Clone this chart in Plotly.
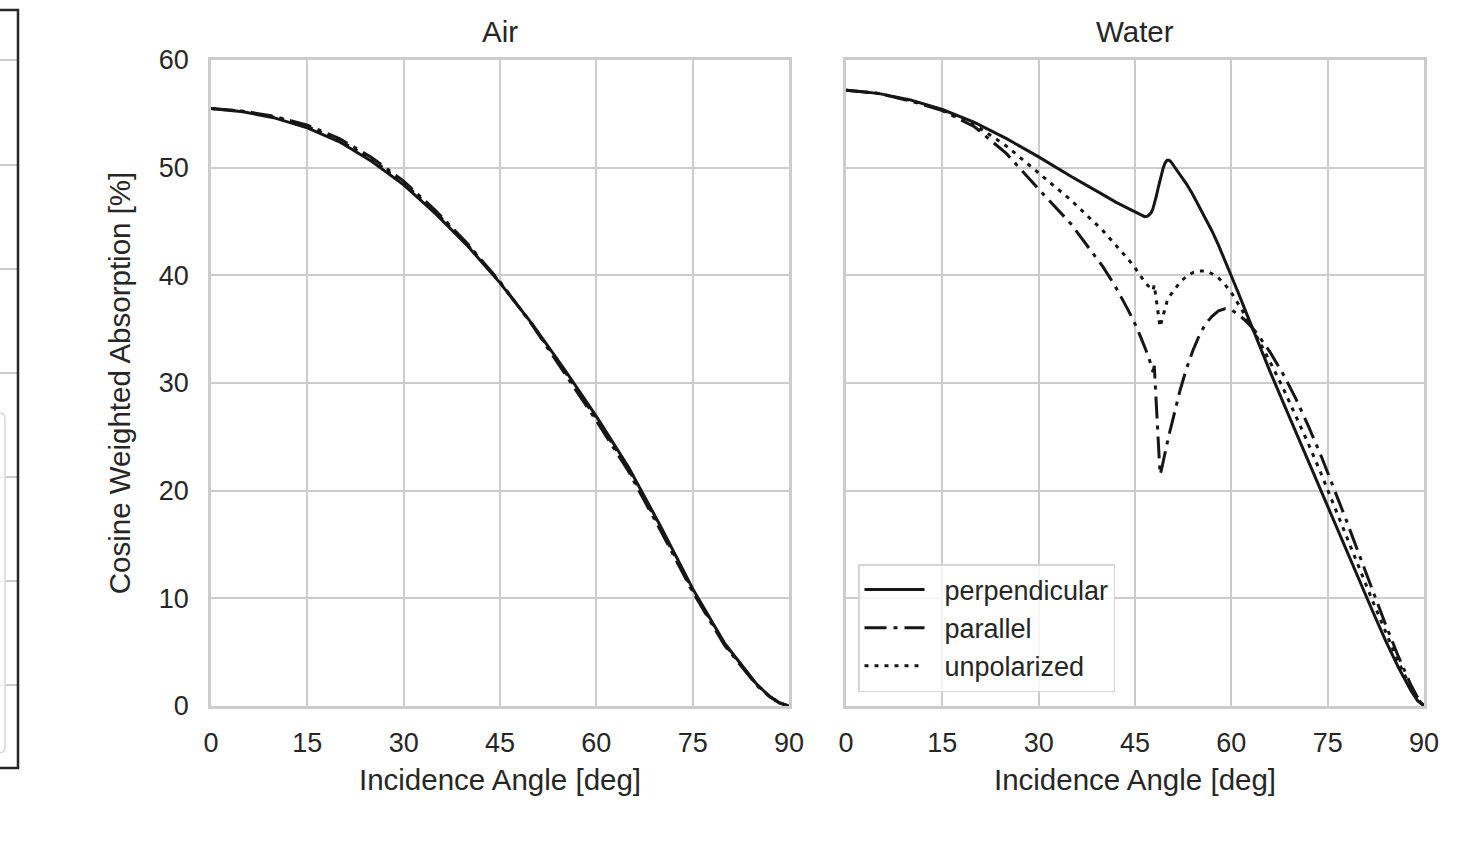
import plotly.graph_objects as go

# ---------------- data ----------------
air_angle = [0, 5, 10, 15, 20, 25, 30, 35, 40, 45, 50, 55, 60, 65, 70, 75, 80, 85, 87, 88.5, 90]
air_perp = [55.5, 55.2, 54.6, 53.7, 52.4, 50.6, 48.4, 45.7, 42.7, 39.3, 35.5, 31.3, 26.9, 22.2, 16.7, 10.9, 5.8, 2.0, 0.9, 0.3, 0.0]
air_par = [55.5, 55.25, 54.75, 53.95, 52.7, 50.95, 48.75, 46.0, 42.9, 39.4, 35.4, 31.0, 26.5, 21.8, 16.3, 10.6, 5.6, 1.9, 0.85, 0.28, 0.0]
air_unpol = [55.5, 55.22, 54.68, 53.82, 52.55, 50.78, 48.58, 45.85, 42.8, 39.35, 35.45, 31.15, 26.7, 22.0, 16.5, 10.75, 5.7, 1.95, 0.88, 0.29, 0.0]

water_angle = [0, 5, 10, 15, 20, 25, 30, 35, 40, 42, 44, 45, 46, 46.5, 47, 47.5, 47.8, 48, 48.3, 48.6,
               48.9, 49.1, 49.4, 49.7, 50, 50.3, 50.6, 51, 52, 53, 54, 55, 56, 57, 58, 59, 60, 61, 62, 63,
               64, 66, 68, 70, 72, 74, 76, 78, 80, 82, 84, 86, 88, 89, 90]
water_perp = [57.2, 56.9, 56.3, 55.4, 54.2, 52.7, 51.0, 49.2, 47.5, 46.8, 46.2, 45.9, 45.55, 45.45, 45.5, 45.8, 46.2, 46.6, 47.3, 48.1,
              48.9, 49.4, 50.0, 50.45, 50.7, 50.7, 50.55, 50.2, 49.4, 48.5, 47.5, 46.4, 45.3, 44.1, 42.8, 41.4, 40.0, 38.5, 37.0, 35.5,
              34.0, 31.1, 28.3, 25.5, 22.7, 19.9, 17.1, 14.3, 11.5, 8.8, 6.1, 3.6, 1.4, 0.5, 0.0]
water_par = [57.2, 56.9, 56.2, 55.3, 53.8, 51.3, 48.0, 44.8, 40.8, 38.9, 36.7, 35.5, 34.1, 33.4, 32.6, 31.7, 31.0, 31.6, 28.2, 24.6,
             21.5, 21.9, 22.8, 23.7, 24.5, 25.2, 25.9, 26.9, 29.3, 31.3, 33.0, 34.4, 35.5, 36.2, 36.7, 36.9, 36.8, 36.4, 35.9, 35.3,
             34.6, 32.9, 30.9, 28.6, 26.0, 23.2, 20.2, 17.1, 13.9, 10.7, 7.6, 4.6, 1.9, 0.8, 0.0]
water_unpol = [57.2, 56.9, 56.25, 55.35, 54.0, 52.0, 49.5, 47.0, 44.15, 42.85, 41.45, 40.7, 39.8, 39.4, 39.05, 38.75, 38.6, 39.1, 37.75, 36.35,
               35.2, 35.65, 36.4, 37.1, 37.6, 38.0, 38.2, 38.55, 39.35, 39.9, 40.25, 40.4, 40.4, 40.15, 39.75, 39.15, 38.4, 37.45, 36.45, 35.4,
               34.3, 32.0, 29.6, 27.05, 24.35, 21.55, 18.65, 15.7, 12.7, 9.75, 6.85, 4.1, 1.65, 0.65, 0.0]

x_ticks = [0, 15, 30, 45, 60, 75, 90]
y_ticks = [0, 10, 20, 30, 40, 50, 60]
panel_titles = ["Air", "Water"]
series_names = ["perpendicular", "parallel", "unpolarized"]

# ---------------- styling ----------------
W, H = 1457, 864
ML, MR, MT, MB = 211, 33, 60, 158
PW, PH = W - ML - MR, H - MT - MB
LINE = "#161616"
GRID = "#cccccc"
TXT = "#262626"
FONT = "Liberation Sans, Arial, sans-serif"
dashes = {"perpendicular": "solid", "parallel": "22px,7px,4px,7px", "unpolarized": "4px,6px"}
NB = "\u00a0\u00a0"  # gap between legend sample and label


def px_x(p):
    return (p - ML) / PW


def px_y(p):
    return (H - MB - p) / PH


fig = go.Figure()
air = {"perpendicular": air_perp, "parallel": air_par, "unpolarized": air_unpol}
water = {"perpendicular": water_perp, "parallel": water_par, "unpolarized": water_unpol}
for n in series_names:
    fig.add_trace(go.Scatter(x=air_angle, y=air[n], mode="lines", name=n, showlegend=False,
                             line=dict(color=LINE, width=3, dash=dashes[n]), xaxis="x", yaxis="y"))
for n in series_names:
    fig.add_trace(go.Scatter(x=water_angle, y=water[n], mode="lines", name=NB + n, showlegend=True,
                             line=dict(color=LINE, width=3, dash=dashes[n]), xaxis="x2", yaxis="y2"))

axis_common = dict(showgrid=True, gridcolor=GRID, gridwidth=2, showline=True, linecolor=GRID, linewidth=2.5,
                   mirror=True, zeroline=False, ticks="outside", tickcolor="rgba(0,0,0,0)",
                   tickfont=dict(size=27, color=TXT, family=FONT))
TFONT = dict(size=29.5, color=TXT, family=FONT)

d1 = [0, px_x(789)]
d2 = [px_x(846), 1]

fig.update_layout(
    width=W, height=H, margin=dict(l=ML, r=MR, t=MT, b=MB, autoexpand=False),
    paper_bgcolor="white", plot_bgcolor="white",
    font=dict(family=FONT, color=TXT),
    xaxis=dict(domain=d1, range=[0, 90], tickvals=x_ticks, anchor="y", ticklen=11,
               title=dict(text="Incidence Angle [deg]", font=TFONT, standoff=13), **axis_common),
    yaxis=dict(domain=[0, 1], range=[0, 60], tickvals=y_ticks, anchor="x", ticklen=14,
               title=dict(text="Cosine Weighted Absorption [%]", font=TFONT, standoff=20), **axis_common),
    xaxis2=dict(domain=d2, range=[0, 90], tickvals=x_ticks, anchor="y2", ticklen=11,
                title=dict(text="Incidence Angle [deg]", font=TFONT, standoff=13), **axis_common),
    yaxis2=dict(domain=[0, 1], range=[0, 60], tickvals=y_ticks, anchor="x2", matches="y", showticklabels=False,
                ticklen=14, **axis_common),
    legend=dict(x=px_x(858), y=px_y(564), xanchor="left", yanchor="top", bgcolor="rgba(255,255,255,0.8)",
                bordercolor="#d6d6d6", borderwidth=1.5, font=dict(size=27, color=TXT, family=FONT),
                itemwidth=60, tracegroupgap=0),
    showlegend=True,
)

for t, d in zip(panel_titles, [d1, d2]):
    fig.add_annotation(text=t, x=(d[0] + d[1]) / 2, y=1, xref="paper", yref="paper", xanchor="center",
                       yanchor="bottom", yshift=10, showarrow=False, font=TFONT)

# clipped neighbouring panel at the left edge of the picture (decoration)
left = px_x(-20)
fr = px_x(18)
for gy in [60, 165, 269, 373, 477, 581, 685]:
    fig.add_shape(type="line", xref="paper", yref="paper", x0=left, x1=fr, y0=px_y(gy), y1=px_y(gy),
                  line=dict(color=GRID, width=2))
rx, ry = 6 / PW, 6 / PH
lx1, ly0, ly1 = px_x(5), px_y(753), px_y(413)
fig.add_shape(type="path", xref="paper", yref="paper",
              path=(f"M {left},{ly1} L {lx1 - rx},{ly1} Q {lx1},{ly1} {lx1},{ly1 - ry} "
                    f"L {lx1},{ly0 + ry} Q {lx1},{ly0} {lx1 - rx},{ly0} L {left},{ly0}"),
              line=dict(color="#d6d6d6", width=1.5), fillcolor="rgba(255,255,255,0.8)")
fig.add_shape(type="rect", xref="paper", yref="paper", x0=left, x1=fr, y0=px_y(768), y1=px_y(10),
              line=dict(color="#262626", width=2.5))

fig.write_html("out.html")
